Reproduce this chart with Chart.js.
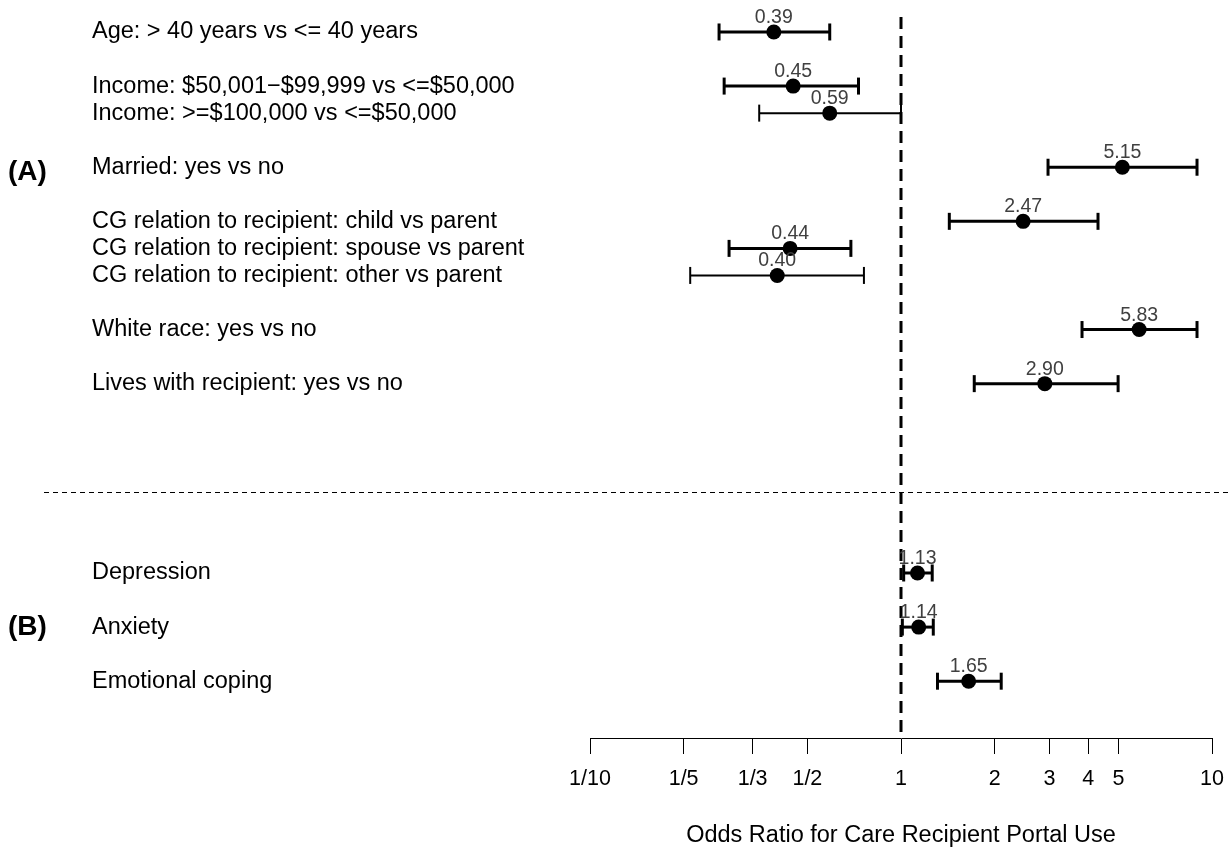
<!DOCTYPE html>
<html>
<head>
<meta charset="utf-8">
<script src="https://cdn.jsdelivr.net/npm/chart.js@4.4.1/dist/chart.umd.min.js"></script>
<style>
  html, body { margin: 0; padding: 0; background: #fff; }
  #contenedor { width: 1230px; height: 850px; }
</style>
</head>
<body>
<div id="contenedor"><canvas id="canvasForest"></canvas></div>
<script>
// datos de la grafica
const etiquetas = [
    'Age: > 40 years vs <= 40 years',
    'Income: $50,001\u2212$99,999 vs <=$50,000',
    'Income: >=$100,000 vs <=$50,000',
    'Married: yes vs no',
    'CG relation to recipient: child vs parent',
    'CG relation to recipient: spouse vs parent',
    'CG relation to recipient: other vs parent',
    'White race: yes vs no',
    'Lives with recipient: yes vs no',
    'Depression',
    'Anxiety',
    'Emotional coping'
];
const seccion = ['(A)', '(A)', '(A)', '(A)', '(A)', '(A)', '(A)', '(A)', '(A)', '(B)', '(B)', '(B)'];
const grupo = [1, 2, 2, 3, 4, 4, 4, 5, 6, 1, 2, 3];
const oddsRatio = [0.39, 0.45, 0.59, 5.15, 2.47, 0.44, 0.40, 5.83, 2.90, 1.13, 1.14, 1.65];
const ciBajo = [0.26, 0.27, 0.35, 2.97, 1.43, 0.28, 0.21, 3.82, 1.72, 1.02, 1.01, 1.31];
const ciAlto = [0.59, 0.73, 1.00, 8.95, 4.30, 0.69, 0.76, 8.95, 4.99, 1.26, 1.27, 2.10];
const valoresEjeX = [0.1, 0.2, 1 / 3, 0.5, 1, 2, 3, 4, 5, 10];
const etiquetasEjeX = ['1/10', '1/5', '1/3', '1/2', '1', '2', '3', '4', '5', '10'];
const tituloEjeX = 'Odds Ratio for Care Recipient Portal Use';

// posiciones de filas (1 entre filas del mismo grupo, 2 entre grupos, 7 entre secciones)
const filaY = [];
let pos = 0;
for (let i = 0; i < etiquetas.length; i++) {
    if (i > 0) {
        if (seccion[i] !== seccion[i - 1]) pos += 7;
        else if (grupo[i] !== grupo[i - 1]) pos += 2;
        else pos += 1;
    }
    filaY.push(pos);
}
const yMin = -0.55;
const yMax = 26.1;
const separadorY = filaY[8] + 4;

const fuente = "'Liberation Sans', Arial, sans-serif";

// lineas de intervalo de confianza (una por fila)
const datasets = [];
for (let i = 0; i < etiquetas.length; i++) {
    const delgada = (i === 2 || i === 6);
    datasets.push({
        type: 'scatter',
        data: [{ x: ciBajo[i], y: filaY[i] }, { x: ciAlto[i], y: filaY[i] }],
        showLine: true,
        borderColor: '#000',
        borderWidth: delgada ? 2 : 3,
        pointStyle: 'line',
        pointRotation: 90,
        pointRadius: 8.5,
        pointBorderWidth: delgada ? 2 : 3,
        pointBorderColor: '#000',
        pointBackgroundColor: '#000'
    });
}
// puntos de odds ratio
datasets.push({
    type: 'scatter',
    data: oddsRatio.map((v, i) => ({ x: v, y: filaY[i] })),
    pointStyle: 'circle',
    pointRadius: 7.5,
    pointBorderWidth: 0,
    pointBackgroundColor: '#000',
    borderColor: '#000'
});
// linea vertical en OR = 1
datasets.push({
    type: 'scatter',
    data: [{ x: 1, y: yMin }, { x: 1, y: yMax }],
    showLine: true,
    borderColor: '#000',
    borderWidth: 3,
    borderDash: [12, 7],
    pointRadius: 0
});

const pluginTextos = {
    id: 'pluginTextos',
    afterDatasetsDraw(chart) {
        const ctx = chart.ctx;
        const ex = chart.scales.x;
        const ey = chart.scales.y;
        ctx.save();
        // valores sobre cada punto
        ctx.font = '19.5px ' + fuente;
        ctx.fillStyle = '#404040';
        ctx.textAlign = 'center';
        ctx.textBaseline = 'alphabetic';
        for (let i = 0; i < oddsRatio.length; i++) {
            ctx.fillText(oddsRatio[i].toFixed(2), ex.getPixelForValue(oddsRatio[i]), ey.getPixelForValue(filaY[i]) - 9);
        }
        // etiquetas de seccion
        ctx.font = 'bold 28px ' + fuente;
        ctx.fillStyle = '#000';
        ctx.textAlign = 'left';
        ctx.textBaseline = 'middle';
        ctx.fillText('(A)', 8, ey.getPixelForValue(filaY[3] + 0.2));
        ctx.fillText('(B)', 8, ey.getPixelForValue(filaY[10]));
        // separador punteado
        ctx.strokeStyle = '#000';
        ctx.lineWidth = 1;
        ctx.setLineDash([5, 4]);
        const sy = Math.round(ey.getPixelForValue(separadorY)) + 0.5;
        ctx.beginPath();
        ctx.moveTo(44, sy);
        ctx.lineTo(chart.width, sy);
        ctx.stroke();
        ctx.restore();
    }
};

const ctx = document.getElementById('canvasForest').getContext('2d');
const graficaForest = new Chart(ctx, {
    type: 'scatter',
    data: { datasets: datasets },
    options: {
        responsive: true,
        maintainAspectRatio: false,
        animation: false,
        events: [],
        layout: { padding: { left: 92, right: 0, top: 17, bottom: 0 } },
        plugins: { legend: { display: false }, tooltip: { enabled: false } },
        scales: {
            x: {
                type: 'logarithmic',
                min: 0.1,
                max: 10,
                afterBuildTicks: (escala) => { escala.ticks = valoresEjeX.map(v => ({ value: v })); },
                afterFit: (escala) => { escala.paddingRight = 18; },
                ticks: {
                    autoSkip: false,
                    maxRotation: 0,
                    padding: 12,
                    color: '#000',
                    font: { family: fuente, size: 21.5 },
                    callback: (valor, indice) => etiquetasEjeX[indice]
                },
                grid: { drawOnChartArea: false, drawTicks: true, tickLength: 16, color: '#000', lineWidth: 1 },
                border: { display: true, color: '#000', width: 1 },
                title: {
                    display: true,
                    text: tituloEjeX,
                    color: '#000',
                    font: { family: fuente, size: 23.5 },
                    padding: { top: 18, bottom: 0 }
                }
            },
            y: {
                type: 'linear',
                reverse: true,
                min: yMin,
                max: yMax,
                afterBuildTicks: (escala) => { escala.ticks = filaY.map(v => ({ value: v })); },
                afterFit: (escala) => { escala.width = 498; },
                ticks: {
                    autoSkip: false,
                    crossAlign: 'far',
                    color: '#000',
                    font: { family: fuente, size: 23.5 },
                    callback: (valor, indice) => etiquetas[indice]
                },
                grid: { display: false },
                border: { display: false }
            }
        }
    },
    plugins: [pluginTextos]
});
</script>
</body>
</html>
